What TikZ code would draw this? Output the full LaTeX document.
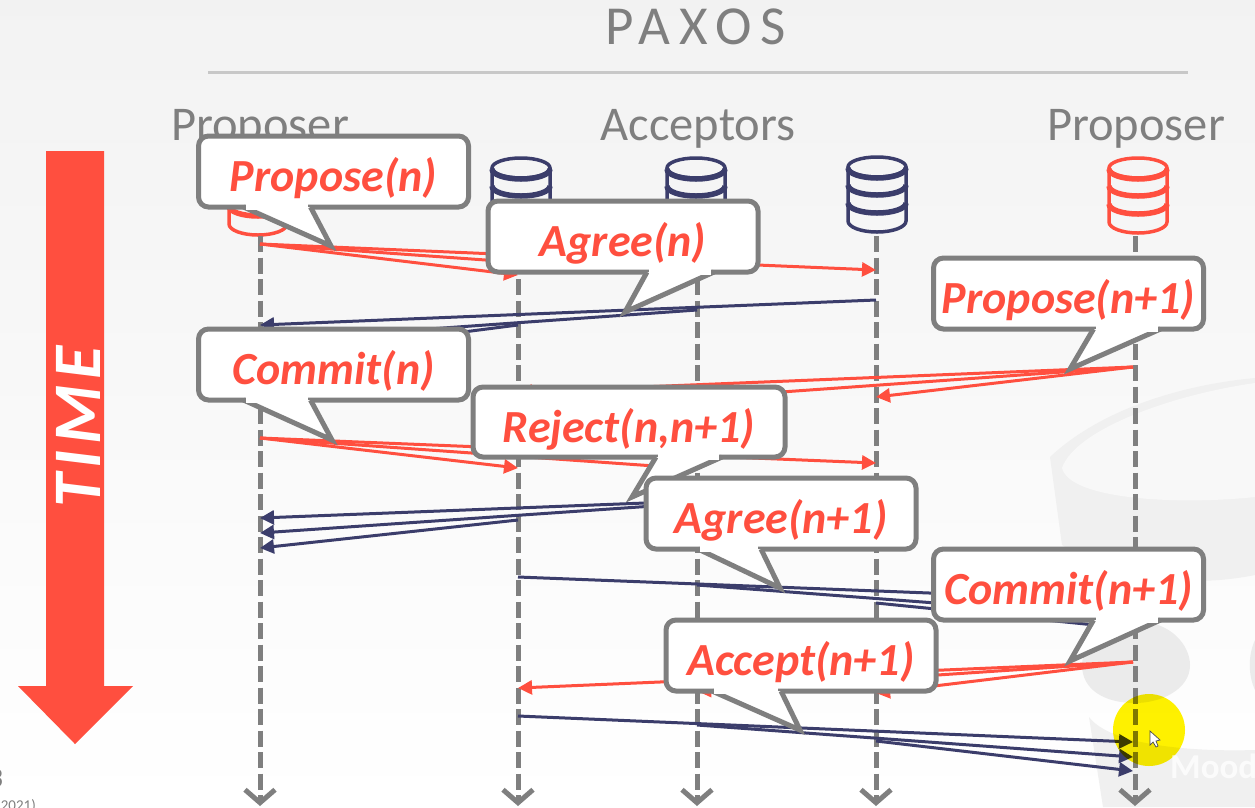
\documentclass[tikz,border=0pt]{standalone}
\usepackage{fontspec}
\setmainfont{Carlito}
\usetikzlibrary{arrows.meta,positioning}
\definecolor{slidered}{HTML}{FF4F3F}
\definecolor{slideblue}{HTML}{3B3D6B}
\definecolor{slidegray}{HTML}{7F7F7F}
\definecolor{markgray}{HTML}{EBEBEB}
\definecolor{markband}{HTML}{F0F0F0}
\definecolor{markpale}{HTML}{F8F8F8}
\newcommand{\bubbletail}[4]{%
  \draw[tail] ([xshift=#2pt]#1.south west) -- (#4) -- ([xshift=#3pt]#1.south west);
  \draw[tailcover] ([xshift=#2pt+2pt]#1.south west) -- ([xshift=#3pt-3pt]#1.south west);}

\begin{document}
\begin{tikzpicture}[x=1pt,y=-1pt]
  \tikzstyle{lifeline}=[draw=slidegray,line width=5pt,dash pattern=on 16pt off 5.5pt,-{Straight Barb[length=13pt,width=30pt,line width=5pt]}]
  \tikzstyle{redmsg}=[draw=slidered,line width=3pt,-{Triangle[length=14pt,width=14pt]}]
  \tikzstyle{bluemsg}=[draw=slideblue,line width=3pt,-{Triangle[length=14pt,width=14pt]}]
  \tikzstyle{bubble}=[draw=slidegray,line width=5pt,fill=white,rounded corners=10pt,inner sep=0pt,outer sep=0pt,minimum width=270pt,minimum height=71pt,text height=40pt,text depth=0pt,text=slidered,font=\fontsize{46}{46}\selectfont\bfseries\itshape]
  \tikzstyle{tail}=[draw=slidegray,line width=5pt,fill=white,line join=miter]
  \tikzstyle{tailcover}=[draw=white,line width=5.6pt]
  \tikzstyle{heading}=[text=slidegray,anchor=base,inner sep=0pt,font=\fontsize{48.5}{48.5}\selectfont]

  \path[use as bounding box] (0,0) rectangle (1255,807);
  \shade[top color=black!5,bottom color=white] (0,0) rectangle (1255,807);
  %watermark
  \fill[markband] (1050,457) .. controls (1100,410) and (1180,385) .. (1255,378) -- (1255,575) .. controls (1180,590) and (1110,575) .. (1062,545) -- cycle;
  \fill[markpale] (1062,468) .. controls (1075,430) and (1170,395) .. (1255,383) -- (1255,497) .. controls (1180,505) and (1070,500) .. (1062,468) -- cycle;
  \fill[markgray] (1082,665) .. controls (1082,640) and (1115,622) .. (1140,622) .. controls (1170,622) and (1190,645) .. (1190,665) .. controls (1190,690) and (1160,703) .. (1135,703) .. controls (1105,703) and (1082,690) .. (1082,665) -- cycle;
  \fill[markgray] (1255,640) .. controls (1248,655) and (1248,675) .. (1255,690) -- cycle;
  \fill[markband] (1089,717) .. controls (1110,745) and (1190,752) .. (1255,750) -- (1255,807) -- (1103,807) -- cycle;

  \node[heading,font=\fontsize{55}{55}\selectfont\addfontfeature{LetterSpace=16}] (title) at (695.5,44) {PAXOS};
  \coordinate (ruleleft) at (208,72);
  \coordinate (ruleright) at (1188,72);
  \draw[draw=black!22,line width=3pt] (ruleleft) -- (ruleright);
  \node[heading] (leftproposer) at (260,140) {Proposer};
  \node[heading] (acceptors) at (698,140) {Acceptors};
  \node[heading] (rightproposer) at (1136,140) {Proposer};

  %time arrow
  \fill[slidered] (46,151) -- (104,151) -- (104,686) -- (133,686) -- (75,744) -- (18,686) -- (46,686) -- cycle;
  \node[rotate=90,text=white,inner sep=0pt,font=\fontsize{68}{68}\selectfont\bfseries\itshape\addfontfeature{LetterSpace=8}] (time) at (78,427) {TIME};

  \node[text=slidegray,anchor=east,inner sep=0pt,font=\fontsize{28}{28}\selectfont\bfseries] (pagenum) at (3,778) {3};
  \node[text=slidegray,anchor=base east,inner sep=0pt,font=\fontsize{15}{15}\selectfont] (year) at (36,810) {(2021)};

  %databases
  \foreach \n/\x/\y/\c in {p/258/170/slidered,a/521/168/slideblue,b/696/168/slideblue,c/877/167/slideblue,q/1138/168/slidered}{
    \coordinate (db\n) at (\x,\y);
    \begin{scope}[shift={(db\n)},draw=\c,line width=3.5pt]
      \draw (0,0) ellipse[x radius=29,y radius=10];
      \draw (-29,0) -- (-29,54) arc[start angle=180,end angle=0,x radius=29,y radius=11] -- (29,0);
      \draw[line width=5.5pt] (-29,1) arc[start angle=180,end angle=0,x radius=29,y radius=10];
      \draw[line width=5.5pt] (-29,18) arc[start angle=180,end angle=0,x radius=29,y radius=10];
      \draw[line width=5.5pt] (-29,36) arc[start angle=180,end angle=0,x radius=29,y radius=10];
    \end{scope}
  }

  %lifelines
  \foreach \n/\x in {p/260,a/518,b/697,c/876,q/1135}{
    \coordinate (top\n) at (\x,236);
    \coordinate (end\n) at (\x,806);
    \draw[lifeline] (top\n) -- (end\n);
  }

  %message ends
  \foreach \n/\x/\y in {p1/260/244,a1/518/275,b1/697/275,c1/876/270,
      c2/876/300,b2/697/310,a2/518/325,p2a/260/325,p2b/260/341,p2c/260/358,
      q3/1133/367,c3/876/397,b3/697/398,a3/518/392,
      p4/260/438,a4/518/468,b4/697/469,c4/876/463,
      c5/876/494,b5/697/503,a5/518/520,p5a/260/518,p5b/260/533,p5c/260/548,
      a6/518/577,b6/697/585,c6/876/603,q6a/1135/601,q6b/1135/618,q6c/1135/629,
      q7/1133/662,a7/518/688,b7/697/691,c7/876/693,
      a8/518/716,b8/697/725,c8/876/741,q8a/1133/742,q8b/1133/757,q8c/1133/771,
      tipone/331/246,tiptwo/625/312,tipthree/1070/369,tipfour/332/440,
      tipfive/632/497,tipsix/780/588,tipseven/1070/661,tipeight/800/730}
    \coordinate (\n) at (\x,\y);

  \foreach \t in {a1,b1,c1} \draw[redmsg] (p1) -- (\t);
  \node[bubble] (proposen) at (333.5,171.5) {Propose(n)};
  \bubbletail{proposen}{45}{112}{tipone}

  \draw[bluemsg] (c2) -- (p2a);
  \draw[bluemsg] (b2) -- (p2b);
  \draw[bluemsg] (a2) -- (p2c);
  \node[bubble] (agreen) at (623,236.5) {Agree(n)};
  \bubbletail{agreen}{159}{226}{tiptwo}

  \foreach \t in {c3,b3,a3} \draw[redmsg] (q3) -- (\t);
  \node[bubble] (proposenext) at (1068.5,293.5) {Propose(n+1)};
  \bubbletail{proposenext}{160}{227}{tipthree}

  \foreach \t in {a4,b4,c4} \draw[redmsg] (p4) -- (\t);
  \node[bubble] (commitn) at (333.5,364.5) {Commit(n)};
  \bubbletail{commitn}{45}{112}{tipfour}

  \draw[bluemsg] (c5) -- (p5a);
  \draw[bluemsg] (b5) -- (p5b);
  \draw[bluemsg] (a5) -- (p5c);
  \node[bubble,minimum width=312pt,minimum height=70pt] (rejectn) at (629,422) {Reject(n,n+1)};
  \bubbletail{rejectn}{183}{249}{tipfive}

  \draw[bluemsg] (a6) -- (q6a);
  \draw[bluemsg] (b6) -- (q6b);
  \draw[bluemsg] (c6) -- (q6c);
  \node[bubble] (agreenext) at (781,513.5) {Agree(n+1)};
  \bubbletail{agreenext}{52}{115}{tipsix}

  \foreach \t in {a7,b7,c7} \draw[redmsg] (q7) -- (\t);
  \node[bubble] (commitnext) at (1068.5,584.5) {Commit(n+1)};
  \bubbletail{commitnext}{160}{227}{tipseven}

  \draw[bluemsg] (a8) -- (q8a);
  \draw[bluemsg] (b8) -- (q8b);
  \draw[bluemsg] (c8) -- (q8c);
  \node[bubble] (acceptnext) at (801,655.5) {Accept(n+1)};
  \bubbletail{acceptnext}{46}{115}{tipeight}

  %pointer
  \begin{scope}[blend mode=multiply]
    \fill[yellow] (1149,730) circle (36);
  \end{scope}
  \draw[fill=white,draw=black!70,line width=0.7pt] (1150,731) -- (1150,745) -- (1153,742) -- (1156,747) -- (1158,746) -- (1156,741) -- (1160,740) -- cycle;
  \node[text=white,anchor=base west,inner sep=0pt,opacity=0.75,font=\fontsize{35}{35}\selectfont\bfseries] (moodle) at (1170,778) {Mood};
\end{tikzpicture}
\end{document}
